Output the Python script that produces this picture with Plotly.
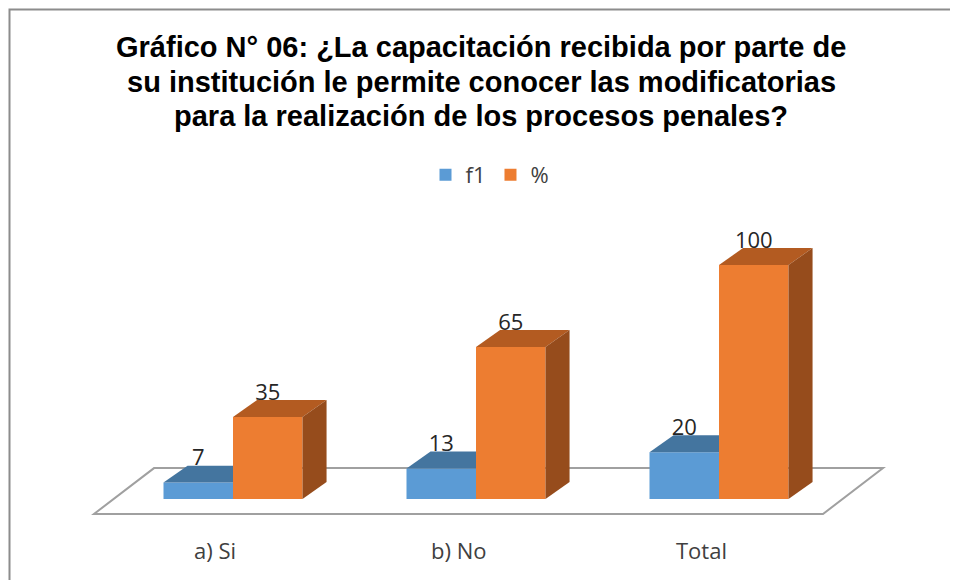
import plotly.graph_objects as go

# ---- data ----
categories = ["a) Si", "b) No", "Total"]
f1_values = [7, 13, 20]
pct_values = [35, 65, 100]
series_names = ["f1", "%"]
title_lines = [
    "Gráfico N° 06: ¿La capacitación recibida por parte de",
    "su institución le permite conocer las modificatorias",
    "para la realización de los procesos penales?",
]

# ---- styling / geometry (pseudo-3D) ----
W, H = 950, 572          # page body has an 8px margin
PX_X, PX_Y = 243.0, 2.34  # pixels per category unit / per value unit
X0_PX, Y0_PX = 225.0, 491.0
BAR_W = 0.286
DX, DY = 0.099, 7.26
X_RANGE = [-X0_PX / PX_X, (W - X0_PX) / PX_X]
Y_RANGE = [-(H - Y0_PX) / PX_Y, Y0_PX / PX_Y]

BLUE, BLUE_TOP = "#5B9BD5", "#44759F"
ORANGE, ORANGE_TOP, ORANGE_SIDE = "#ED7D31", "#B35B21", "#964C1C"
FONT = "Open Sans"

xs = list(range(len(categories)))
fig = go.Figure()

fig.add_trace(go.Bar(x=xs, y=f1_values, width=BAR_W, offset=-BAR_W, name=series_names[0],
                     marker=dict(color=BLUE, line=dict(width=0))))
fig.add_trace(go.Bar(x=xs, y=pct_values, width=BAR_W, offset=0, name=series_names[1],
                     marker=dict(color=ORANGE, line=dict(width=0))))

def poly(px, py, color):
    fig.add_trace(go.Scatter(x=px + [px[0]], y=py + [py[0]], mode="lines", fill="toself",
                             fillcolor=color, line=dict(width=0, color=color),
                             hoverinfo="skip", showlegend=False))

for i, (b, o) in enumerate(zip(f1_values, pct_values)):
    x0, x1, x2 = i - BAR_W, i, i + BAR_W
    poly([x0, x1, x1, x0 + DX], [b, b, b + DY, b + DY], BLUE_TOP)
    poly([x1, x2, x2 + DX, x1 + DX], [o, o, o + DY, o + DY], ORANGE_TOP)
    poly([x2, x2 + DX, x2 + DX, x2], [0, DY, o + DY, o], ORANGE_SIDE)

LBL_DROP = 2.2
fig.add_trace(go.Scatter(x=[i - BAR_W / 2 for i in xs], y=[v + DY - LBL_DROP for v in f1_values],
                         mode="text", text=[str(v) for v in f1_values], textposition="top center",
                         textfont=dict(family=FONT, size=22, color="#262626"),
                         hoverinfo="skip", showlegend=False))
fig.add_trace(go.Scatter(x=[i + BAR_W / 2 for i in xs], y=[v + DY - LBL_DROP for v in pct_values],
                         mode="text", text=[str(v) for v in pct_values], textposition="top center",
                         textfont=dict(family=FONT, size=22, color="#262626"),
                         hoverinfo="skip", showlegend=False))

n = len(categories)
fl, fr = -0.5 - 0.072, n - 0.5 - 0.072
fy, by, shift = -6.4, 13.2, 0.247
fig.add_shape(type="path", layer="below",
              path=f"M {fl},{fy} L {fr},{fy} L {fr + shift},{by} L {fl + shift},{by} Z",
              line=dict(color="#A0A0A0", width=2), fillcolor="white")

for i, c in enumerate(categories):
    fig.add_annotation(x=i - 0.074, y=-21.8, text=c, showarrow=False, xanchor="center",
                       yanchor="middle", font=dict(family=FONT, size=22, color="#404040"))

title_y_px = [39, 74, 108]
for line, ypx in zip(title_lines, title_y_px):
    fig.add_annotation(xref="paper", yref="paper", x=473 / W, y=1 - ypx / H, xanchor="center",
                       yanchor="middle", showarrow=False, text="<b>" + line + "</b>",
                       font=dict(family="Liberation Sans", size=29, color="#000000"))

fig.add_shape(type="rect", xref="paper", yref="paper", x0=1.5 / W, x1=1.02, y0=-0.02,
              y1=1 - 1.5 / H, line=dict(color="#8C8C8C", width=2), layer="below")

fig.update_layout(
    width=W, height=H, margin=dict(l=0, r=0, t=0, b=0),
    paper_bgcolor="white", plot_bgcolor="white",
    barmode="overlay",
    xaxis=dict(range=X_RANGE, visible=False, fixedrange=True),
    yaxis=dict(range=Y_RANGE, visible=False, fixedrange=True),
    showlegend=True,
    legend=dict(orientation="h", x=482 / W, y=1 - 167 / H, xanchor="center", yanchor="middle",
                font=dict(family=FONT, size=22, color="#404040"), itemwidth=30,
                bgcolor="rgba(0,0,0,0)"),
)

fig.write_html("out.html")
